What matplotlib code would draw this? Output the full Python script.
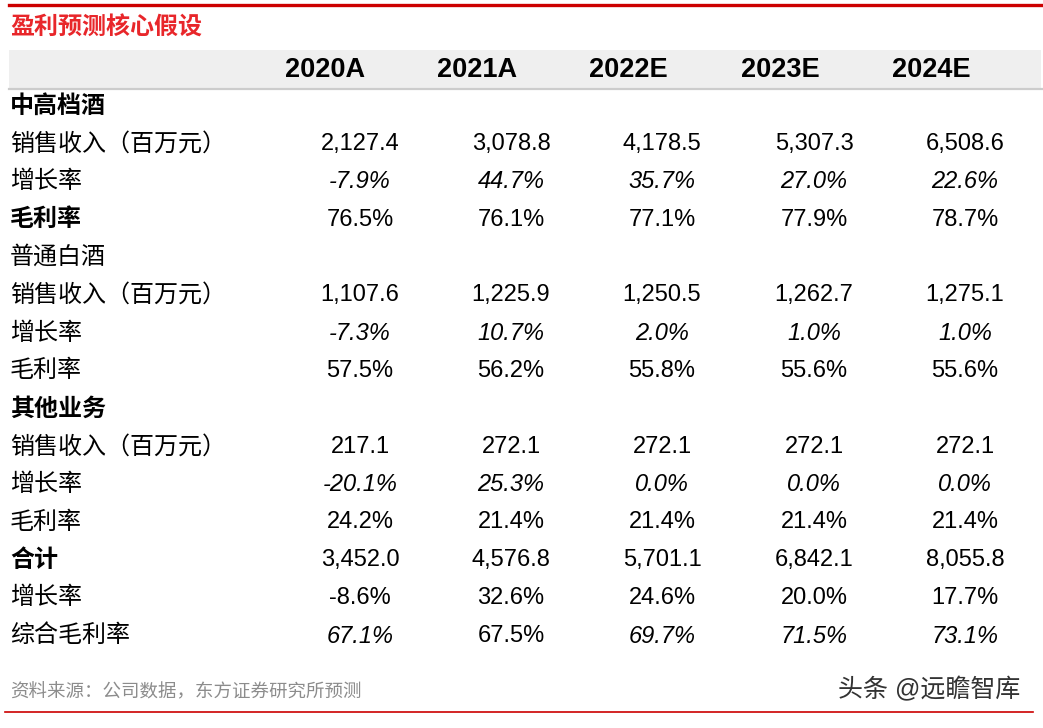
import matplotlib
matplotlib.use("Agg")
import matplotlib.pyplot as plt
from matplotlib.patches import Rectangle
from matplotlib.lines import Line2D

# ---------------- data ----------------
title = "盈利预测核心假设"
years = ["2020A", "2021A", "2022E", "2023E", "2024E"]

row_labels = ["中高档酒", "销售收入（百万元）", "增长率", "毛利率",
              "普通白酒", "销售收入（百万元）", "增长率", "毛利率",
              "其他业务", "销售收入（百万元）", "增长率", "毛利率",
              "合计", "增长率", "综合毛利率"]

premium_rev = [2127.4, 3078.8, 4178.5, 5307.3, 6508.6]
premium_growth = [-7.9, 44.7, 35.7, 27.0, 22.6]
premium_margin = [76.5, 76.1, 77.1, 77.9, 78.7]

regular_rev = [1107.6, 1225.9, 1250.5, 1262.7, 1275.1]
regular_growth = [-7.3, 10.7, 2.0, 1.0, 1.0]
regular_margin = [57.5, 56.2, 55.8, 55.6, 55.6]

other_rev = [217.1, 272.1, 272.1, 272.1, 272.1]
other_growth = [-20.1, 25.3, 0.0, 0.0, 0.0]
other_margin = [24.2, 21.4, 21.4, 21.4, 21.4]

total_rev = [3452.0, 4576.8, 5701.1, 6842.1, 8055.8]
total_growth = [-8.6, 32.6, 24.6, 20.0, 17.7]
total_margin = [67.1, 67.5, 69.7, 71.5, 73.1]

source = "资料来源：公司数据，东方证券研究所预测"
watermark = "头条 @远瞻智库"

# ---------------- layout ----------------
W, H = 1043, 728
fig = plt.figure(figsize=(W / 100, H / 100), dpi=100)
fig.patch.set_facecolor("white")

FAM = ["Liberation Sans", "Noto Sans CJK SC", "DejaVu Sans"]


def fx(x):
    return x / W


def fy(y):
    return 1 - y / H


def txt(x, y, s, **kw):
    kw.setdefault("family", FAM)
    kw.setdefault("va", "center")
    fig.text(fx(x), fy(y), s, **kw)


# top red line
fig.add_artist(Line2D([fx(9), fx(1043)], [fy(4.5), fy(4.5)], color="#CC0000", lw=2.4))
# title
txt(10, 28, title, color="#E8262A", fontsize=17.3, fontweight="bold")

# header band
fig.add_artist(Rectangle((fx(9), fy(88)), fx(1041) - fx(9), fy(50) - fy(88),
                         facecolor="#EFEFEF", edgecolor="none"))
fig.add_artist(Line2D([fx(9), fx(1043)], [fy(89), fy(89)], color="#CCCCCC", lw=1.6))

header_x = [325, 477, 628, 780, 931]
for x, yr in zip(header_x, years):
    txt(x, 70, yr, ha="center", fontsize=19.5, fontweight="bold", color="black")

# rows
def fmt_rev(v):
    return f"{v:,.1f}"


def fmt_pct(v):
    return f"{v:.1f}%"


rows = [
    None,
    [fmt_rev(v) for v in premium_rev],
    [fmt_pct(v) for v in premium_growth],
    [fmt_pct(v) for v in premium_margin],
    None,
    [fmt_rev(v) for v in regular_rev],
    [fmt_pct(v) for v in regular_growth],
    [fmt_pct(v) for v in regular_margin],
    None,
    [fmt_rev(v) for v in other_rev],
    [fmt_pct(v) for v in other_growth],
    [fmt_pct(v) for v in other_margin],
    [fmt_rev(v) for v in total_rev],
    [fmt_pct(v) for v in total_growth],
    [fmt_pct(v) for v in total_margin],
]

bold_rows = {0, 3, 8, 12}
italic_rows = {2, 6, 10}
italic_cells = {(14, 0), (14, 2), (14, 3), (14, 4)}

col_x = [360, 511, 662, 814, 965]
y0, dy = 106, 37.86
for i, (lab, vals) in enumerate(zip(row_labels, rows)):
    y = y0 + i * dy
    txt(10, y, lab, ha="left", fontsize=17.3,
        fontweight="bold" if i in bold_rows else "normal",
        style="italic" if i in italic_rows else "normal", color="black")
    if vals is None:
        continue
    for j, (x, v) in enumerate(zip(col_x, vals)):
        it = i in italic_rows or (i, j) in italic_cells
        txt(x, y, v, ha="center", fontsize=17,
            style="italic" if it else "normal", color="black")

# source
txt(10, 693, source, ha="left", fontsize=13.3, color="#8C8C8C")
# watermark
txt(1020, 690, watermark, ha="right", fontsize=18, color="#333333")
# bottom red line
fig.add_artist(Line2D([fx(5), fx(1033)], [fy(712), fy(712)], color="#CC0000", lw=1.2))

fig.savefig("out.png", dpi=100, facecolor="white")
